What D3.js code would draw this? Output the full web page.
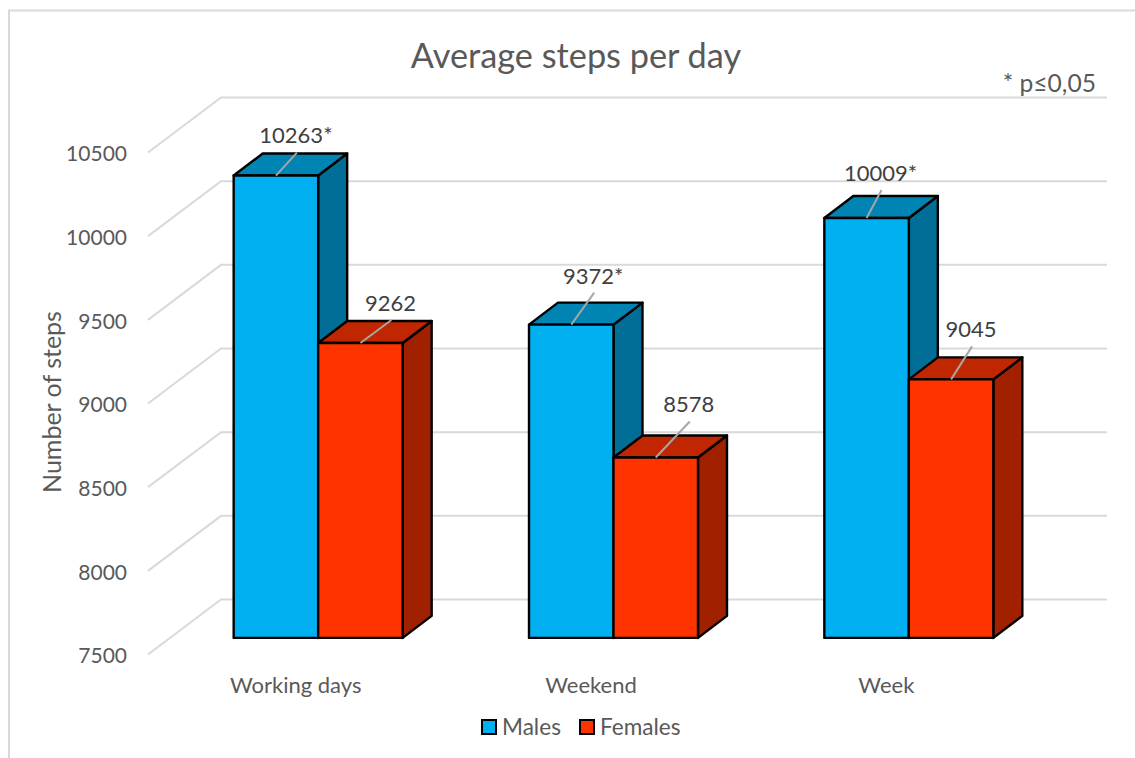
<!DOCTYPE html>
<html lang="en">
<head>
  <meta charset="UTF-8">
  <title>Average steps per day</title>
  <script src="https://d3js.org/d3.v7.min.js"></script>
  <style>
    body { margin: 0; background: #fff; }
    svg { display: block; }
    text { font-family: Lato, sans-serif; fill: #595959; }
    .tick text { font-family: Lato, sans-serif; fill: #595959; }
    .grid { fill: none; stroke: #d9d9d9; stroke-width: 2; }
    .face { stroke: #000; stroke-width: 2.4; stroke-linejoin: round; }
    .leader { stroke: #a6a6a6; stroke-width: 2; }
  </style>
</head>
<body>
  <div id="chart"></div>
  <script>
    const categories = ["Working days", "Weekend", "Week"];
    const seriesNames = ["Males", "Females"];
    const males = [10263, 9372, 10009];
    const females = [9262, 8578, 9045];
    const maleLabels = ["10263*", "9372*", "10009*"];
    const femaleLabels = ["9262", "8578", "9045"];
    const yTicks = [7500, 8000, 8500, 9000, 9500, 10000, 10500];

    // hand placed labels in the original, leader end relative to bar top
    const maleLeaders = [[21, -23], [23, -32], [15, -28]];
    const femaleLeaders = [[31, -23], [34, -36], [21, -33]];

    const colors = {
      Males: { front: "#00b0f0", top: "#0084b4", side: "#006e96" },
      Females: { front: "#ff3300", top: "#c02600", side: "#a02000" }
    };

    const width = 1135, height = 758;
    // 3d look: floor depth, and where the bars stand on the floor
    const floorDx = 73, floorDy = -55;
    const barShiftX = 22.5, barShiftY = -16.6;
    const barDx = 29, barDy = -22;

    const y = d3.scaleLinear().domain([7500, 10500]).range([654.5, 152.5]);
    const x = d3.scaleBand().domain(categories).range([148, 1034]);
    const xBar = d3.scaleBand().domain(seriesNames).range([-84.5, 84.5]);

    const svg = d3.select("#chart").append("svg")
      .attr("width", width)
      .attr("height", height);

    // chart frame, cut by the picture edge on the right and bottom
    svg.append("path")
      .attr("class", "grid")
      .attr("d", `M9,${height}V10.5H${width}`);

    // gridlines: up the floor then along the back wall
    svg.append("g").selectAll("path")
      .data(yTicks)
      .join("path")
      .attr("class", "grid")
      .attr("d", d => `M148,${y(d)}l${floorDx},${floorDy}H1107`);

    // Y axis
    const yAxis = svg.append("g")
      .attr("transform", "translate(148,0)")
      .call(d3.axisLeft(y).tickValues(yTicks).tickSize(0).tickPadding(21).tickFormat(d3.format("d")));
    yAxis.select(".domain").remove();
    yAxis.selectAll("text").style("font-size", "21px").attr("dy", "0.4em");

    // X axis
    const xAxis = svg.append("g")
      .attr("transform", "translate(0,677)")
      .call(d3.axisBottom(x).tickSize(0).tickPadding(0));
    xAxis.select(".domain").remove();
    xAxis.selectAll("text").style("font-size", "22px").attr("dy", "0.71em");

    // bars
    const bars = [];
    categories.forEach((c, i) => {
      bars.push({ c, name: "Males", value: males[i], label: maleLabels[i], leader: maleLeaders[i] });
      bars.push({ c, name: "Females", value: females[i], label: femaleLabels[i], leader: femaleLeaders[i] });
    });

    const barW = xBar.bandwidth();
    const barBase = y(7500) + barShiftY;
    const barLeft = d => x(d.c) + x.bandwidth() / 2 + barShiftX + xBar(d.name);
    const barTop = d => y(d.value) + barShiftY;

    const bar = svg.append("g").selectAll("g")
      .data(bars)
      .join("g");

    bar.append("path")
      .attr("class", "face")
      .attr("fill", d => colors[d.name].side)
      .attr("d", d => `M${barLeft(d) + barW},${barTop(d)}l${barDx},${barDy}V${barBase + barDy}l${-barDx},${-barDy}Z`);

    bar.append("path")
      .attr("class", "face")
      .attr("fill", d => colors[d.name].top)
      .attr("d", d => `M${barLeft(d)},${barTop(d)}l${barDx},${barDy}h${barW}l${-barDx},${-barDy}Z`);

    bar.append("rect")
      .attr("class", "face")
      .attr("fill", d => colors[d.name].front)
      .attr("x", barLeft)
      .attr("y", barTop)
      .attr("width", barW)
      .attr("height", d => barBase - barTop(d));

    // data labels with leader lines
    const labels = svg.append("g").selectAll("g")
      .data(bars)
      .join("g");

    labels.append("line")
      .attr("class", "leader")
      .attr("x1", d => barLeft(d) + barW / 2)
      .attr("y1", barTop)
      .attr("x2", d => barLeft(d) + barW / 2 + d.leader[0])
      .attr("y2", d => barTop(d) + d.leader[1]);

    labels.append("text")
      .attr("x", d => barLeft(d) + barW / 2 + d.leader[0] - 1)
      .attr("y", d => barTop(d) + d.leader[1] - 17)
      .attr("dy", "0.36em")
      .attr("text-anchor", "middle")
      .style("font-size", "22px")
      .style("fill", "#404040")
      .text(d => d.label);

    // titles
    svg.append("text")
      .attr("x", 576)
      .attr("y", 68)
      .attr("text-anchor", "middle")
      .style("font-size", "34.3px")
      .text("Average steps per day");

    svg.append("text")
      .attr("x", 1096)
      .attr("y", 92)
      .attr("text-anchor", "end")
      .style("font-size", "24.6px")
      .text("* p≤0,05");

    svg.append("text")
      .attr("transform", "translate(61,402) rotate(-90)")
      .attr("text-anchor", "middle")
      .style("font-size", "25px")
      .text("Number of steps");

    // legend
    const legendX = [482, 580];
    const legend = svg.append("g").selectAll("g")
      .data(seriesNames)
      .join("g")
      .attr("transform", (d, i) => `translate(${legendX[i]},720)`);

    legend.append("rect")
      .attr("width", 14)
      .attr("height", 14)
      .attr("fill", d => colors[d].front)
      .attr("stroke", "#000")
      .attr("stroke-width", 2);

    legend.append("text")
      .attr("x", 20)
      .attr("y", 14.5)
      .style("font-size", "22.6px")
      .text(d => d);
  </script>
</body>
</html>
